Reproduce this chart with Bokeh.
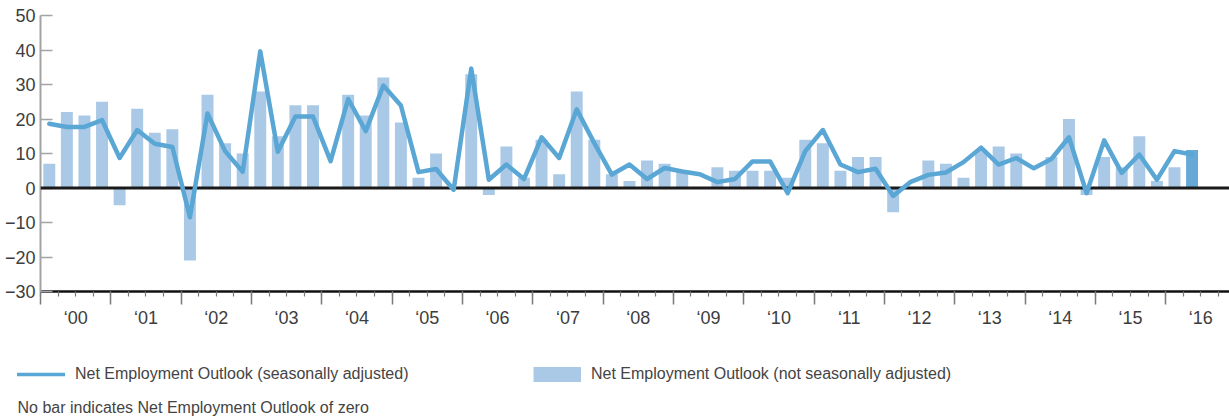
import numpy as np
from bokeh.plotting import figure
from bokeh.models import (Range1d, FixedTicker, LinearAxis, Span, Legend, LegendItem,
                          Label, ColumnDataSource, CustomJSTickFormatter)
from bokeh.embed import file_html
from bokeh.resources import INLINE

# ---------------- data ----------------
years = list(range(2000, 2017))
year_labels = ["‘00", "‘01", "‘02", "‘03", "‘04", "‘05", "‘06", "‘07", "‘08",
               "‘09", "‘10", "‘11", "‘12", "‘13", "‘14", "‘15", "‘16"]
quarters = [f"{y}Q{q}" for y in years for q in range(1, 5)][:66]

# Net Employment Outlook (not seasonally adjusted) - bars
nsa = [7, 22, 21, 25,   -5, 23, 16, 17,   -21, 27, 13, 10,   28, 15, 24, 24,
       0, 27, 21, 32,   19, 3, 10, 0,     33, -2, 12, 3,     14, 4, 28, 14,
       4, 2, 8, 7,      5, 0, 6, 5,       5, 5, 3, 14,       13, 5, 9, 9,
       -7, 0, 8, 7,     3, 11, 12, 10,    0, 9, 20, -2,      9, 6, 15, 2,
       6, 11]

# Net Employment Outlook (seasonally adjusted) - line
sa = [18.6, 17.7, 17.7, 19.7,  8.7, 16.8, 12.8, 11.9,  -8.5, 21.6, 10.7, 4.7,
      39.6, 10.5, 20.7, 20.7,  7.8, 25.8, 16.5, 29.7,  23.9, 4.6, 5.5, -0.5,
      34.6, 2.4, 6.8, 2.6,     14.7, 8.7, 22.8, 13.0,  3.9, 6.8, 2.6, 5.8,
      4.8, 4.0, 1.7, 2.6,      7.7, 7.7, -1.5, 10.7,   16.8, 6.8, 4.6, 5.6,
      -2.3, 1.8, 3.8, 4.5,     7.5, 11.7, 6.8, 8.7,    5.7, 8.4, 14.7, -1.5,
      13.8, 4.4, 9.7, 2.4,     10.7, 9.7]

y_ticks = [-30, -20, -10, 0, 10, 20, 30, 40, 50]

# ---------------- styling ----------------
FONT = "Liberation Sans"
LIGHT = "#aac9e6"
DARK = "#67a9d6"
LINE = "#5aa7d5"
TXT = "#3d3d3d"

n = len(quarters)
xpos = np.arange(n) + 0.5
colors = [LIGHT] * (n - 1) + [DARK]
src = ColumnDataSource(dict(x=xpos, nsa=nsa, sa=sa, q=quarters, color=colors))

W = 1229
H1 = 340
H2 = 418 - H1

p = figure(width=W, height=H1, output_backend="svg", toolbar_location=None,
           x_range=Range1d(0, 67.63), y_range=Range1d(-30, 50),
           x_axis_type=None, y_axis_type=None,
           min_border_left=40, min_border_right=0, min_border_top=15,
           min_border_bottom=H1 - 291)
p.outline_line_color = None

# y axis
yaxis = LinearAxis(ticker=FixedTicker(ticks=y_ticks, minor_ticks=[]),
                   major_tick_in=12, major_tick_out=0,
                   minor_tick_in=0, minor_tick_out=0,
                   axis_line_color="#a3a3a3", axis_line_width=2,
                   major_tick_line_color="#a3a3a3", major_tick_line_width=1.5,
                   major_label_text_font=FONT, major_label_text_font_size="18px",
                   major_label_text_color=TXT, major_label_standoff=5)
p.add_layout(yaxis, "left")

# x axis 1: axis line + year/quarter ticks
year_starts = [4 * i for i in range(len(years))]
quarter_bounds = list(range(0, 69))
xaxis = LinearAxis(ticker=FixedTicker(ticks=year_starts, minor_ticks=quarter_bounds),
                   major_tick_in=0, major_tick_out=13,
                   minor_tick_in=0, minor_tick_out=5,
                   axis_line_color="#111111", axis_line_width=2.5,
                   major_tick_line_color="#7a7a7a", major_tick_line_width=1.5,
                   minor_tick_line_color="#7a7a7a", minor_tick_line_width=1.2,
                   formatter=CustomJSTickFormatter(code="return ''"),
                   major_label_text_font_size="1px", major_label_standoff=0)
p.add_layout(xaxis, "below")

# x axis 2: year labels at mid-year
year_mids = [4 * i + 2 for i in range(len(year_labels))]
xaxis2 = LinearAxis(ticker=FixedTicker(ticks=year_mids, minor_ticks=[]),
                    major_label_overrides={m: t for m, t in zip(year_mids, year_labels)},
                    axis_line_color=None, major_tick_line_color=None,
                    minor_tick_line_color=None, major_tick_out=0, major_tick_in=0,
                    major_label_standoff=3,
                    major_label_text_font=FONT, major_label_text_font_size="18px",
                    major_label_text_color=TXT)
p.add_layout(xaxis2, "below")

# bars
p.vbar(x="x", top="nsa", bottom=0, width=0.68, fill_color="color",
       line_color=None, source=src)

# zero line
p.add_layout(Span(location=0, dimension="width", line_color="#1a1a1a", line_width=3))

# seasonally adjusted line
p.line("x", "sa", source=src, line_color=LINE, line_width=4.5,
       line_join="round", line_cap="round", level="overlay")

# ---------------- legend / footnote strip (separate root) ----------------
p2 = figure(width=W, height=H2, output_backend="svg", toolbar_location=None,
            x_range=Range1d(0, W), y_range=Range1d(0, H2),
            x_axis_type=None, y_axis_type=None,
            min_border_left=0, min_border_right=0, min_border_top=0,
            min_border_bottom=0)
p2.outline_line_color = None

sw_line = p2.line(x=[np.nan], y=[np.nan], line_color=LINE, line_width=3.5,
                  line_cap="round")
sw_bar = p2.line(x=[np.nan], y=[np.nan], line_color=LIGHT, line_width=15,
                 line_cap="butt")
legend = Legend(items=[
    LegendItem(label="Net Employment Outlook (seasonally adjusted)", renderers=[sw_line]),
    LegendItem(label="Net Employment Outlook (not seasonally adjusted)", renderers=[sw_bar]),
], location=(17, H2 - 44), orientation="horizontal",
    glyph_width=48, glyph_height=20, label_standoff=10, label_width=458,
    spacing=0, padding=0, margin=0, border_line_color=None,
    background_fill_alpha=0, label_text_font=FONT, label_text_font_size="16px",
    label_text_color="#444444")
p2.add_layout(legend, "center")

p2.add_layout(Label(x=17, y=H2 - 67, x_units="screen", y_units="screen",
                    text="No bar indicates Net Employment Outlook of zero",
                    text_baseline="middle", text_font=FONT,
                    text_font_size="16px", text_color="#444444"))

open("out.html", "w").write(file_html([p, p2], INLINE))
